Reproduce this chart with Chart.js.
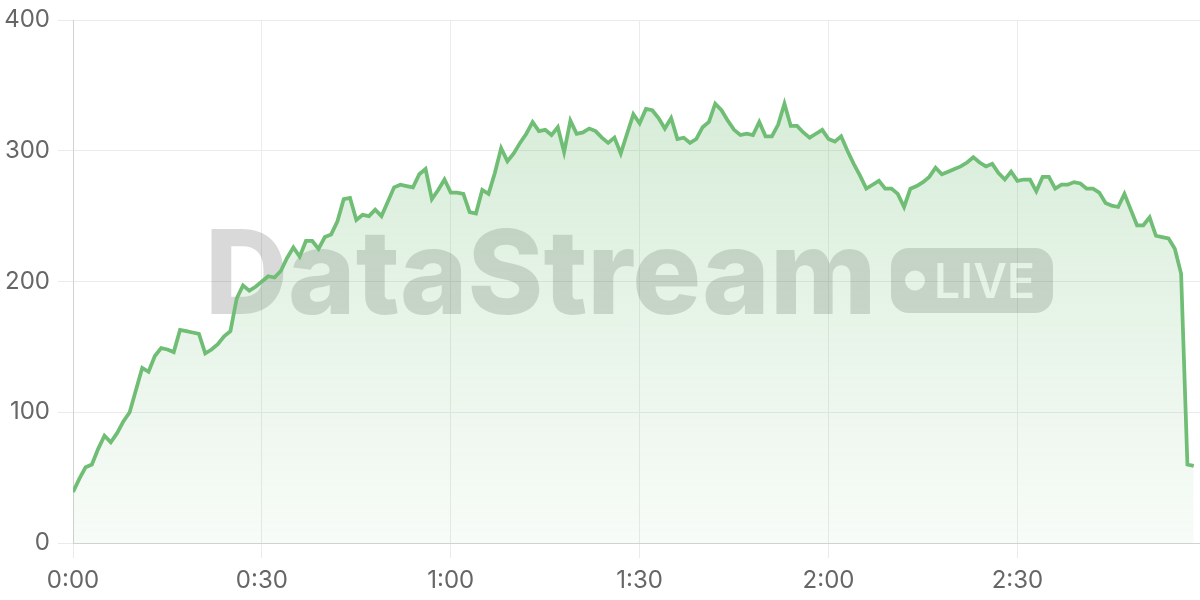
<!DOCTYPE html>
<html>
<head>
<meta charset="utf-8">
<script src="https://cdn.jsdelivr.net/npm/chart.js@4.4.0/dist/chart.umd.min.js"></script>
<style>
  html, body { margin: 0; padding: 0; background: #ffffff; }
  #wrap { width: 1200px; height: 600px; }
</style>
</head>
<body>
<div id="wrap"><canvas id="c" width="1200" height="600"></canvas></div>
<script>
// ---- data ----
const sampleMinutes = 1;            // one sample per minute, starting at 0:00
const viewers = [
  39, 49, 58, 60, 72, 82, 77, 84, 93, 100,
  117, 134, 131, 143, 149, 148, 146, 163, 162, 161,
  160, 145, 148, 152, 158, 162, 187, 197, 193, 196,
  200, 204, 203, 208, 218, 226, 219, 231, 231, 225,
  234, 236, 246, 263, 264, 247, 251, 250, 255, 250,
  261, 272, 274, 273, 272, 282, 286, 263, 270, 278,
  268, 268, 267, 253, 252, 270, 267, 283, 302, 292,
  298, 306, 313, 322, 315, 316, 312, 318, 299, 323,
  313, 314, 317, 315, 310, 306, 310, 298, 313, 328,
  321, 332, 331, 325, 317, 325, 309, 310, 306, 309,
  318, 322, 336, 331, 323, 316, 312, 313, 312, 322,
  311, 311, 320, 336, 319, 319, 314, 310, 313, 316,
  309, 307, 311, 300, 290, 281, 271, 274, 277, 271,
  271, 267, 257, 271, 273, 276, 280, 287, 282, 284,
  286, 288, 291, 295, 291, 288, 290, 283, 278, 284,
  277, 278, 278, 269, 280, 280, 271, 274, 274, 276,
  275, 271, 271, 268, 260, 258, 257, 267, 255, 243,
  243, 249, 235, 234, 233, 225, 206, 60, 59
];
const xTickLabels = ['0:00', '0:30', '1:00', '1:30', '2:00', '2:30'];
const xTickStepMinutes = 30;
const xMaxMinutes = 179;
const yMin = 0, yMax = 400, yStep = 100;
const watermarkText = 'DataStream';
const badgeText = 'LIVE';

// ---- styling ----
const lineRGB = '112,189,117';
const FONT = 'Inter';

const points = viewers.map((v, i) => ({ x: i * sampleMinutes, y: v }));

const watermark = {
  id: 'watermark',
  beforeDatasetsDraw(chart) {
    const c = chart.ctx;
    c.save();
    c.fillStyle = 'rgba(0,0,0,0.15)';
    c.font = `800 117px ${FONT}`;
    c.textBaseline = 'alphabetic';
    const m = c.measureText(watermarkText);
    const ink = m.actualBoundingBoxLeft + m.actualBoundingBoxRight;
    const sx = 659 / ink;
    c.translate(211, 314);
    c.scale(sx, 1);
    c.fillText(watermarkText, m.actualBoundingBoxLeft, 0);
    c.restore();

    const off = document.createElement('canvas');
    off.width = chart.width; off.height = chart.height;
    const o = off.getContext('2d');
    o.fillStyle = 'rgba(0,0,0,0.15)';
    o.beginPath();
    o.roundRect(891, 248, 162, 65, 18);
    o.fill();
    o.globalCompositeOperation = 'destination-out';
    o.fillStyle = '#000';
    o.beginPath();
    o.arc(915, 280.5, 10, 0, Math.PI * 2);
    o.fill();
    o.font = `600 48px ${FONT}`;
    o.textBaseline = 'alphabetic';
    const bm = o.measureText(badgeText);
    const bInk = bm.actualBoundingBoxLeft + bm.actualBoundingBoxRight;
    o.save();
    o.translate(937, 298);
    o.scale(96 / bInk, 1);
    o.fillText(badgeText, bm.actualBoundingBoxLeft, 0);
    o.restore();
    c.drawImage(off, 0, 0);
  }
};

Chart.defaults.font.family = FONT;

new Chart(document.getElementById('c'), {
  type: 'line',
  data: {
    datasets: [{
      data: points,
      borderColor: `rgb(${lineRGB})`,
      borderWidth: 3.75,
      pointRadius: 0,
      pointHoverRadius: 0,
      tension: 0,
      fill: 'origin',
      backgroundColor: (ctx) => {
        const { chart } = ctx;
        const area = chart.chartArea;
        if (!area) return `rgba(${lineRGB},0.15)`;
        const g = chart.ctx.createLinearGradient(0, area.top, 0, area.bottom);
        g.addColorStop(0, `rgba(${lineRGB},0.32)`);
        g.addColorStop(1, `rgba(${lineRGB},0.05)`);
        return g;
      }
    }]
  },
  options: {
    responsive: false,
    animation: false,
    devicePixelRatio: 1,
    layout: { padding: { top: 20, left: 5, right: 0, bottom: 5 } },
    plugins: {
      legend: { display: false },
      tooltip: { enabled: false }
    },
    scales: {
      x: {
        type: 'linear',
        min: 0,
        max: xMaxMinutes,
        afterFit: (s) => { s.height = 52; },
        grid: { color: '#ebebeb', tickLength: 15, lineWidth: 1 },
        border: { color: '#d2d2d2' },
        ticks: {
          stepSize: xTickStepMinutes,
          includeBounds: false,
          autoSkip: false,
          maxRotation: 0,
          padding: 8,
          color: '#666',
          font: { size: 24, family: FONT },
          callback: (v) => {
            const i = v / xTickStepMinutes;
            return Number.isInteger(i) && xTickLabels[i] !== undefined ? xTickLabels[i] : '';
          }
        }
      },
      y: {
        min: yMin,
        max: yMax,
        afterFit: (s) => { s.width = 68; },
        grid: { color: '#ebebeb', tickLength: 15, lineWidth: 1 },
        border: { color: '#d2d2d2' },
        ticks: {
          stepSize: yStep,
          padding: 8,
          color: '#666',
          font: { size: 24, family: FONT, lineHeight: 1.0 }
        }
      }
    }
  },
  plugins: [watermark]
});
</script>
</body>
</html>
